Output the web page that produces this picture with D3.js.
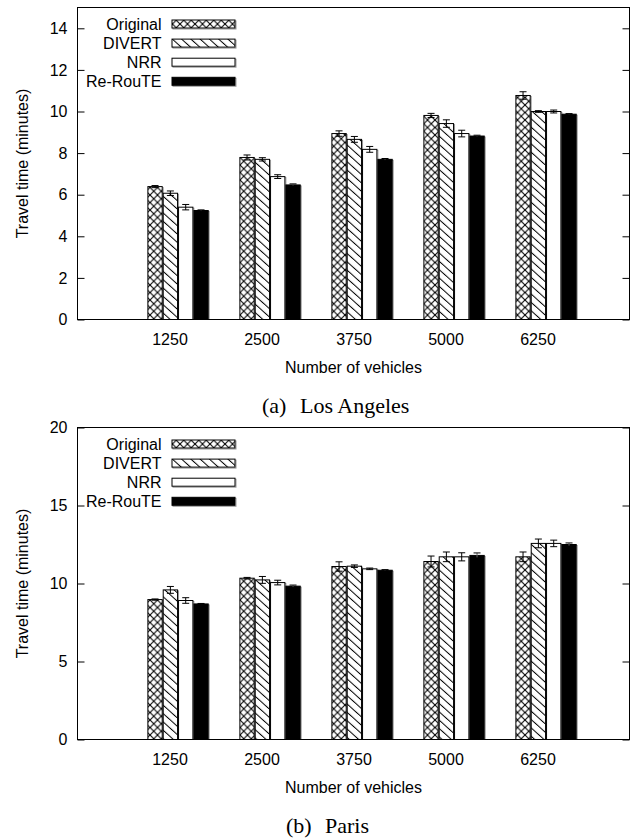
<!DOCTYPE html>
<html>
<head>
<meta charset="utf-8">
<script src="https://cdn.jsdelivr.net/npm/d3@7"></script>
<style>
  body { margin: 0; background: #fff; }
  svg text { font-family: "Liberation Sans", Arial, sans-serif; }
</style>
</head>
<body>
<script>
// categories and series
var categories = ["1250", "2500", "3750", "5000", "6250"];
var methods = ["Original", "DIVERT", "NRR", "Re-RouTE"];

// Los Angeles (minutes)
var laOriginal = [6.39, 7.79, 8.94, 9.81, 10.77];
var laDivert   = [6.07, 7.70, 8.66, 9.42, 10.00];
var laNrr      = [5.40, 6.87, 8.18, 8.94, 10.00];
var laReroute  = [5.24, 6.47, 7.70, 8.82, 9.87];
var laOriginalErr = [0.05, 0.12, 0.13, 0.10, 0.18];
var laDivertErr   = [0.11, 0.08, 0.14, 0.18, 0.04];
var laNrrErr      = [0.13, 0.09, 0.14, 0.16, 0.07];
var laRerouteErr  = [0.03, 0.05, 0.04, 0.04, 0.03];

// Paris (minutes)
var paOriginal = [8.97, 10.34, 11.09, 11.41, 11.71];
var paDivert   = [9.59, 10.23, 11.11, 11.71, 12.57];
var paNrr      = [8.91, 10.06, 10.94, 11.71, 12.57];
var paReroute  = [8.69, 9.83, 10.85, 11.80, 12.50];
var paOriginalErr = [0.04, 0.05, 0.30, 0.35, 0.31];
var paDivertErr   = [0.22, 0.22, 0.08, 0.31, 0.28];
var paNrrErr      = [0.18, 0.15, 0.05, 0.26, 0.21];
var paRerouteErr  = [0.03, 0.07, 0.04, 0.16, 0.10];

var laTicks = [0, 2, 4, 6, 8, 10, 12, 14];
var paTicks = [0, 5, 10, 15, 20];

var width = 638;
var height = 838;

var svg = d3.select("body").append("svg")
    .attr("width", width)
    .attr("height", height);

// fill patterns
var defs = svg.append("defs");
var cross = defs.append("pattern")
    .attr("id", "cross")
    .attr("patternUnits", "userSpaceOnUse")
    .attr("width", 7.5).attr("height", 7.5);
cross.append("rect").attr("width", 7.5).attr("height", 7.5).attr("fill", "#fff");
cross.append("path")
    .attr("d", "M0,0L7.5,7.5M7.5,0L0,7.5")
    .attr("stroke", "#000").attr("stroke-width", 1.1);

var diag = defs.append("pattern")
    .attr("id", "diag")
    .attr("patternUnits", "userSpaceOnUse")
    .attr("width", 6.2).attr("height", 10)
    .attr("patternTransform", "rotate(-48)");
diag.append("rect").attr("width", 6.2).attr("height", 10).attr("fill", "#fff");
diag.append("line")
    .attr("x1", 0.5).attr("y1", 0).attr("x2", 0.5).attr("y2", 10)
    .attr("stroke", "#000").attr("stroke-width", 1);

var fills = ["url(#cross)", "url(#diag)", "#fff", "#000"];

var left = 77.5, right = 629.5;

var x = d3.scaleLinear()
    .domain([-1, 5])
    .range([left, right]);

var serif = "'Liberation Serif', 'Times New Roman', serif";

function drawChart(top, bottom, yMax, ticks, series, errs, capLabel, capText, capY, capX, capX2) {
    var g = svg.append("g");

    var y = d3.scaleLinear()
        .domain([0, yMax])
        .range([bottom, top]);

    var barW = 1 / 6;
    var bw = x(barW) - x(0) - 1;

    // bars
    series.forEach(function(vals, j) {
        var sg = g.append("g");
        // gray shadow edge
        sg.selectAll("rect.shadow")
            .data(vals)
            .enter().append("rect")
            .attr("class", "shadow")
            .attr("x", function(d, i) { return x(i - 0.235 + j * barW) + 1; })
            .attr("y", function(d) { return y(d) + 1; })
            .attr("width", bw)
            .attr("height", function(d) { return bottom - y(d) - 1; })
            .attr("fill", "none")
            .attr("stroke", "#999")
            .attr("stroke-width", 1);
        sg.selectAll("rect.bar")
            .data(vals)
            .enter().append("rect")
            .attr("class", "bar")
            .attr("x", function(d, i) { return x(i - 0.235 + j * barW); })
            .attr("y", function(d) { return y(d); })
            .attr("width", bw)
            .attr("height", function(d) { return bottom - y(d); })
            .attr("fill", fills[j])
            .attr("stroke", "#000")
            .attr("stroke-width", 1);

        // error bars
        var eg = sg.selectAll("g.err")
            .data(vals)
            .enter().append("g")
            .attr("class", "err")
            .attr("transform", function(d, i) {
                return "translate(" + (x(i - 0.235 + j * barW) + bw / 2) + ",0)";
            });
        eg.append("line")
            .attr("y1", function(d, i) { return y(d - errs[j][i]); })
            .attr("y2", function(d, i) { return y(d + errs[j][i]); })
            .attr("stroke", j == 3 ? "#666" : "#000");
        eg.append("line")
            .attr("x1", -3.5).attr("x2", 3.5)
            .attr("y1", function(d, i) { return y(d - errs[j][i]); })
            .attr("y2", function(d, i) { return y(d - errs[j][i]); })
            .attr("stroke", "#000");
        eg.append("line")
            .attr("x1", -3.5).attr("x2", 3.5)
            .attr("y1", function(d, i) { return y(d + errs[j][i]); })
            .attr("y2", function(d, i) { return y(d + errs[j][i]); })
            .attr("stroke", "#000");
    });

    // axes
    var yAxis = g.append("g")
        .attr("transform", "translate(" + left + ",0)")
        .call(d3.axisLeft(y).tickValues(ticks).tickSizeInner(-7).tickSizeOuter(0).tickPadding(10));
    yAxis.select(".domain").remove();
    yAxis.selectAll("text")
        .style("font-size", "16px")
        .attr("fill", "#000");

    var yAxisR = g.append("g")
        .attr("transform", "translate(" + right + ",0)")
        .call(d3.axisRight(y).tickValues(ticks).tickSizeInner(-7).tickSizeOuter(0).tickFormat(""));
    yAxisR.select(".domain").remove();

    var xAxis = g.append("g")
        .attr("transform", "translate(0," + bottom + ")")
        .call(d3.axisBottom(x).tickValues([0, 1, 2, 3, 4])
            .tickFormat(function(i) { return categories[i]; })
            .tickSize(0).tickPadding(14));
    xAxis.select(".domain").remove();
    xAxis.selectAll("text")
        .style("font-size", "16px")
        .attr("fill", "#000");

    // frame
    g.append("rect")
        .attr("x", left).attr("y", top)
        .attr("width", right - left).attr("height", bottom - top)
        .attr("fill", "none")
        .attr("stroke", "#000")
        .attr("stroke-width", 1);

    // legend
    var lg = g.append("g").selectAll("g")
        .data(methods)
        .enter().append("g")
        .attr("transform", function(d, i) { return "translate(0," + (top + 16.5 + i * 19.1) + ")"; });
    lg.append("text")
        .attr("x", 161.5)
        .attr("dy", "0.35em")
        .attr("text-anchor", "end")
        .style("font-size", "16px")
        .text(function(d) { return d; });
    lg.append("rect")
        .attr("x", 173).attr("y", -3)
        .attr("width", 63).attr("height", 8)
        .attr("fill", "none").attr("stroke", "#999");
    lg.append("rect")
        .attr("x", 172).attr("y", -4)
        .attr("width", 63).attr("height", 8)
        .attr("fill", function(d, i) { return fills[i]; })
        .attr("stroke", "#000");

    // axis titles
    g.append("text")
        .attr("transform", "translate(27.5," + ((top + bottom) / 2) + ") rotate(-90)")
        .attr("text-anchor", "middle")
        .style("font-size", "16px")
        .text("Travel time (minutes)");

    g.append("text")
        .attr("x", (left + right) / 2)
        .attr("y", bottom + 53.5)
        .attr("text-anchor", "middle")
        .style("font-size", "16px")
        .text("Number of vehicles");

    // caption
    g.append("text")
        .attr("x", capX)
        .attr("y", capY)
        .style("font-family", serif)
        .style("font-size", "22px")
        .text(capLabel);
    g.append("text")
        .attr("x", capX2)
        .attr("y", capY)
        .style("font-family", serif)
        .style("font-size", "22px")
        .text(capText);
}

drawChart(7.5, 319.5, 15, laTicks,
    [laOriginal, laDivert, laNrr, laReroute],
    [laOriginalErr, laDivertErr, laNrrErr, laRerouteErr],
    "(a)", "Los Angeles", 413, 262, 300);

drawChart(427.5, 739.5, 20, paTicks,
    [paOriginal, paDivert, paNrr, paReroute],
    [paOriginalErr, paDivertErr, paNrrErr, paRerouteErr],
    "(b)", "Paris", 833, 286, 325);
</script>
</body>
</html>
